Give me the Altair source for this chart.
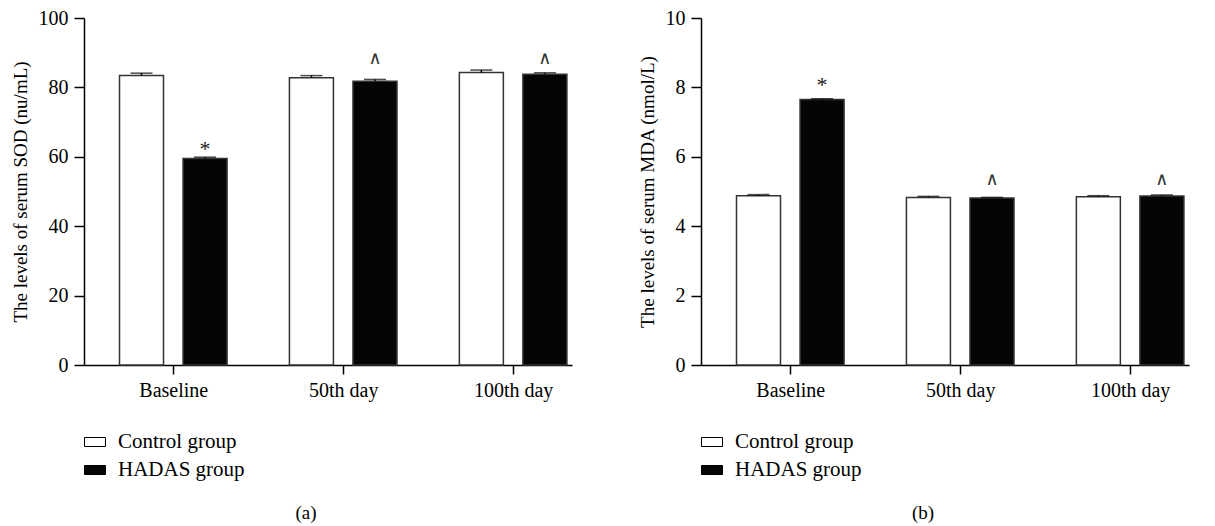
import json
import altair as alt
import pandas as pd

categories = ["Baseline", "50th day", "100th day"]
groups = ["Control group", "HADAS group"]

sod_control = [83.4, 82.8, 84.3]
sod_control_err = [0.7, 0.6, 0.7]
sod_hadas = [59.5, 81.8, 83.8]
sod_hadas_err = [0.4, 0.5, 0.4]
sod_marks = ["*", "∧", "∧"]
sod_mark_y = [63.1, 88.2, 88.2]

mda_control = [4.88, 4.83, 4.85]
mda_control_err = [0.03, 0.03, 0.03]
mda_hadas = [7.65, 4.81, 4.87]
mda_hadas_err = [0.02, 0.02, 0.03]
mda_marks = ["*", "∧", "∧"]
mda_mark_y = [8.17, 5.34, 5.34]

FONT = "Liberation Serif"
GROUP_OFFSET = {"Control group": -0.187, "HADAS group": 0.187}


def panel(control, control_err, hadas, hadas_err, marks, mark_y, ymax, ystep, ytitle, caption):
    rows = []
    for i, c in enumerate(categories):
        for g, v, e in ((groups[0], control[i], control_err[i]), (groups[1], hadas[i], hadas_err[i])):
            rows.append({"idx": i, "category": c, "group": g, "value": v, "err": e,
                         "mark": marks[i] if g == groups[1] else "",
                         "mark_y": mark_y[i] if g == groups[1] else None})
    df = pd.DataFrame(rows)
    df["xpos"] = df["idx"] + df["group"].map(GROUP_OFFSET)
    df["hi"] = df["value"] + df["err"]

    xscale = alt.Scale(domain=[-0.496, 2.317], nice=False, zero=False)
    xaxis = alt.Axis(values=[0, 1, 2], title=None, grid=False,
                     labelExpr=json.dumps(categories) + "[datum.value]",
                     labelFont=FONT, labelFontSize=20, labelColor="black",
                     tickSize=9, tickWidth=1.5, tickColor="black",
                     domainColor="black", domainWidth=1.5, labelPadding=6)
    yscale = alt.Scale(domain=[0, ymax], nice=False)
    yaxis = alt.Axis(values=list(range(0, ymax + 1, ystep)), title=ytitle, grid=False,
                     labelFont=FONT, labelFontSize=20, labelColor="black",
                     titleFont=FONT, titleFontSize=19, titleFontWeight="normal", titleColor="black",
                     titlePadding=8, tickSize=10, tickWidth=1.5, tickColor="black",
                     domainColor="black", domainWidth=1.5, labelPadding=6)

    base = alt.Chart(df)
    bars = base.mark_bar(size=44, stroke="#333333", strokeWidth=1.5).encode(
        x=alt.X("xpos:Q", scale=xscale, axis=xaxis),
        y=alt.Y("value:Q", scale=yscale, axis=yaxis),
        fill=alt.Fill("group:N", scale=alt.Scale(domain=groups, range=["white", "#050505"]),
                      legend=alt.Legend(title=None, orient="none", legendX=0, legendY=413,
                                        symbolType="M-1,-0.43H1V0.43H-1Z", symbolSize=441,
                                        symbolStrokeColor="black", symbolStrokeWidth=1,
                                        symbolOpacity=1, labelFont=FONT, labelFontSize=21,
                                        labelColor="black", labelOffset=12, rowPadding=7)),
    )
    err = base.mark_rule(color="black", strokeWidth=1.5).encode(
        x="xpos:Q", y="value:Q", y2="hi:Q")
    caps = base.mark_tick(orient="horizontal", size=22, thickness=1.5, color="black").encode(
        x="xpos:Q", y="hi:Q")
    star = base.transform_filter("datum.mark == '*'").mark_text(
        font=FONT, fontSize=22, color="#222222", baseline="middle", dy=3).encode(
        x="xpos:Q", y="mark_y:Q", text="mark:N")
    caret = base.transform_filter("datum.mark == '∧'").mark_text(
        font="DejaVu Sans", fontSize=18, color="#333333", baseline="middle").encode(
        x="xpos:Q", y="mark_y:Q", text="mark:N")
    cap_text = alt.Chart(df).transform_filter("datum.idx == 0 && datum.group == 'Control group'").mark_text(
        text=caption, font=FONT, fontSize=19, color="black", baseline="middle").encode(
        x=alt.value(222), y=alt.value(495))
    return alt.layer(bars, err, caps, star, caret, cap_text).properties(width=488, height=347)


left = panel(sod_control, sod_control_err, sod_hadas, sod_hadas_err, sod_marks, sod_mark_y,
             100, 20, "The levels of serum SOD (nu/mL)", "(a)")
right = panel(mda_control, mda_control_err, mda_hadas, mda_hadas_err, mda_marks, mda_mark_y,
              10, 2, "The levels of serum MDA (nmol/L)", "(b)")

chart = alt.hconcat(left, right, spacing=66).resolve_scale(
    fill="independent", x="independent", y="independent").resolve_legend(
    fill="independent").configure_view(stroke=None).properties(
    padding={"left": 3, "top": 0, "right": 5, "bottom": 0}, background="white")

chart.save("out.html", embed_options={"renderer": "svg", "actions": False})
